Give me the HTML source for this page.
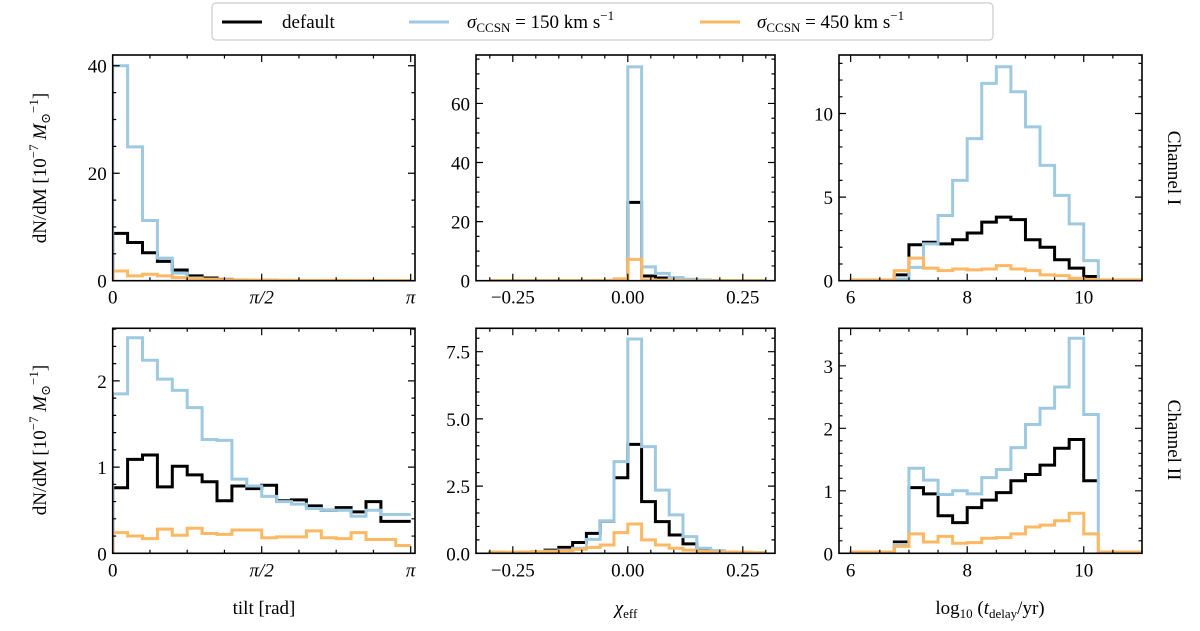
<!DOCTYPE html>
<html><head><meta charset="utf-8">
<style>
html,body{margin:0;padding:0;background:#fff;}
svg{display:block;font-family:"Liberation Serif","DejaVu Serif",serif;}
</style></head>
<body>
<svg id="fig" width="1200" height="631" viewBox="0 0 1200 631" xmlns="http://www.w3.org/2000/svg">
  <g>
    <rect x="212" y="3" width="781" height="37" rx="4" fill="#fff" stroke="#ccc" stroke-width="1.2"/>
    <g>
      <line x1="222" y1="22" x2="262" y2="22" stroke="#000" stroke-width="3"/>
      <text x="282" y="28" font-size="19">default</text>
    </g>
    <g>
      <line x1="409" y1="22" x2="449" y2="22" stroke="#9ecae1" stroke-width="3"/>
      <text x="467" y="28" font-size="19"><tspan font-style="italic">σ</tspan><tspan font-size="13" dy="4">CCSN</tspan><tspan dy="-4"> = 150 km s</tspan><tspan font-size="13" dy="-8">−1</tspan></text>
    </g>
    <g>
      <line x1="700" y1="22" x2="740" y2="22" stroke="#fdb863" stroke-width="3"/>
      <text x="757" y="28" font-size="19"><tspan font-style="italic">σ</tspan><tspan font-size="13" dy="4">CCSN</tspan><tspan dy="-4"> = 450 km s</tspan><tspan font-size="13" dy="-8">−1</tspan></text>
    </g>
  </g>
  <g id="panels"></g>
  <text transform="translate(46,168) rotate(-90)" text-anchor="middle" font-size="19">dN/dM [10<tspan font-size="13" dy="-8">−7</tspan><tspan dy="8"> </tspan><tspan font-style="italic">M</tspan><tspan font-size="13" dy="4">⊙</tspan><tspan font-size="13" dy="-12">−1</tspan><tspan dy="8">]</tspan></text>
  <text transform="translate(46,440) rotate(-90)" text-anchor="middle" font-size="19">dN/dM [10<tspan font-size="13" dy="-8">−7</tspan><tspan dy="8"> </tspan><tspan font-style="italic">M</tspan><tspan font-size="13" dy="4">⊙</tspan><tspan font-size="13" dy="-12">−1</tspan><tspan dy="8">]</tspan></text>
  <text transform="translate(1168,168) rotate(90)" text-anchor="middle" font-size="19">Channel I</text>
  <text transform="translate(1168,440) rotate(90)" text-anchor="middle" font-size="19">Channel II</text>
  <text x="264" y="614" text-anchor="middle" font-size="19">tilt [rad]</text>
  <text x="626" y="614" text-anchor="middle" font-size="19"><tspan font-style="italic">χ</tspan><tspan font-size="13" dy="4">eff</tspan></text>
  <text x="990" y="614" text-anchor="middle" font-size="19">log<tspan font-size="13" dy="4">10</tspan><tspan dy="-4"> (</tspan><tspan font-style="italic">t</tspan><tspan font-size="13" dy="4">delay</tspan><tspan dy="-4">/yr)</tspan></text>
</svg>
<script>
// ---- data (bin values per panel) ----
const tiltEdgesRange = [0, Math.PI];
const chiEdgesRange = [-0.3, 0.3];
const tdelayEdgesRange = [6, 11];
const tilt1Default = [8.8,7.1,5.2,3.6,2.0,0.9,0.5,0.25,0.12,0.08,0.05,0.04,0.03,0.02,0.02,0.02,0.01,0.01,0.01,0.01];
const tilt1Sigma150 = [40,24.9,11.2,4.2,1.4,0.5,0.2,0.1,0.05,0.03,0.02,0.02,0.01,0.01,0.01,0.01,0.01,0.01,0.01,0.01];
const tilt1Sigma450 = [1.8,0.9,1.2,0.9,0.6,0.4,0.3,0.2,0.15,0.12,0.1,0.08,0.07,0.06,0.05,0.05,0.04,0.04,0.04,0.04];
const chi1Default = [0,0,0,0,0,0,0,0,0,0.1,26.5,1.6,0.9,0.5,0.1,0,0,0,0,0];
const chi1Sigma150 = [0,0,0,0,0,0,0,0,0,0.1,72.4,4.7,2.5,1.1,0.5,0.3,0,0,0,0];
const chi1Sigma450 = [0,0,0,0,0,0,0,0,0.1,0.6,7.2,0.3,0.2,0.1,0,0,0,0,0,0];
const td1Default = [0,0,0,0.35,2.15,2.3,2.2,2.45,2.85,3.5,3.8,3.65,2.45,2.0,1.25,0.75,0.25,0,0,0];
const td1Sigma150 = [0,0,0,0.1,0.8,2.2,3.9,6.0,8.5,11.8,12.8,11.3,9.2,6.9,5.1,3.4,1.2,0.02,0.02,0.02];
const td1Sigma450 = [0.05,0.05,0.05,0.6,1.35,0.75,0.6,0.7,0.65,0.7,0.9,0.7,0.6,0.35,0.3,0.15,0.08,0.05,0.05,0.05];
const tilt2Default = [0.76,1.09,1.14,0.77,1.01,0.91,0.83,0.61,0.78,0.75,0.79,0.61,0.62,0.55,0.50,0.53,0.48,0.60,0.37,0.37];
const tilt2Sigma150 = [1.85,2.50,2.24,2.02,1.89,1.69,1.32,1.31,0.86,0.78,0.66,0.60,0.57,0.52,0.50,0.50,0.43,0.50,0.45,0.45];
const tilt2Sigma450 = [0.24,0.20,0.17,0.28,0.21,0.29,0.23,0.22,0.27,0.27,0.18,0.19,0.19,0.26,0.18,0.17,0.24,0.16,0.16,0.09];
const chi2Default = [0.03,0.03,0.05,0.05,0.12,0.22,0.40,0.74,1.2,2.81,4.05,1.92,1.18,0.68,0.35,0.15,0.06,0.04,0.03,0.02];
const chi2Sigma150 = [0.03,0.03,0.04,0.05,0.08,0.12,0.19,0.52,1.21,3.41,7.97,3.97,2.35,1.43,0.62,0.19,0.10,0.05,0.04,0.03];
const chi2Sigma450 = [0.05,0.04,0.05,0.06,0.07,0.10,0.15,0.22,0.31,0.77,1.09,0.50,0.31,0.19,0.12,0.07,0.05,0.05,0.04,0.03];
const td2Default = [0,0,0,0.18,1.05,0.95,0.60,0.49,0.73,0.85,0.97,1.16,1.26,1.41,1.68,1.82,1.16,null,null,null];
const td2Sigma150 = [0,0,0,0.14,1.36,1.17,0.94,1.0,0.95,1.21,1.34,1.69,2.06,2.32,2.66,3.44,2.22,0,0,0];
const td2Sigma450 = [0.02,0.02,0.02,0.11,0.31,0.18,0.27,0.16,0.17,0.24,0.25,0.31,0.42,0.45,0.52,0.64,0.31,0.02,0.02,0.02];
const tiltTickLabels = ["0","π/2","π"];
const chiTickLabels = ["−0.25","0.00","0.25"];
const tdTickLabels = ["6","8","10"];

const NS="http://www.w3.org/2000/svg";
const root=document.getElementById('panels');
function el(tag,attrs,parent){const e=document.createElementNS(NS,tag);for(const k in attrs)e.setAttribute(k,attrs[k]);(parent||root).appendChild(e);return e;}

const colX=[[112.7,415],[476,775],[839,1142]];
const rowY=[[55,280.7],[328.3,553.3]];
const colors={def:"#000",s150:"#9ecae1",s450:"#fdb863"};

const xconf=[
  {lim:[0,3.187],range:tiltEdgesRange,major:[0,Math.PI/2,Math.PI],labels:tiltTickLabels,minorStep:Math.PI/8,name:'tilt'},
  {lim:[-0.33,0.32],range:chiEdgesRange,major:[-0.25,0,0.25],labels:chiTickLabels,minorStep:0.05,name:'chi-eff'},
  {lim:[5.8,11],range:tdelayEdgesRange,major:[6,8,10],labels:tdTickLabels,minorStep:0.5,name:'tdelay'}
];
const yconf=[
  [{lim:[0,42],major:[0,20,40],minor:5},{lim:[0,76.4],major:[0,20,40,60],minor:5},{lim:[0,13.5],major:[0,5,10],minor:1}],
  [{lim:[0,2.61],major:[0,1,2],minor:0.2},{lim:[0,8.37],major:[0,2.5,5,7.5],minor:0.5,fmt:v=>v.toFixed(1)},{lim:[0,3.6],major:[0,1,2,3],minor:0.2}]
];
const series=[
  [[tilt1Default,tilt1Sigma150,tilt1Sigma450],[chi1Default,chi1Sigma150,chi1Sigma450],[td1Default,td1Sigma150,td1Sigma450]],
  [[tilt2Default,tilt2Sigma150,tilt2Sigma450],[chi2Default,chi2Sigma150,chi2Sigma450],[td2Default,td2Sigma150,td2Sigma450]]
];
const sColors=[colors.def,colors.s150,colors.s450];
const sNames=['default','sigma-150','sigma-450'];

for(let r=0;r<2;r++){
  for(let c=0;c<3;c++){
    const [x0,x1]=colX[c],[y0,y1]=rowY[r];
    const xc=xconf[c],yc=yconf[r][c];
    const sx=v=>x0+(v-xc.lim[0])/(xc.lim[1]-xc.lim[0])*(x1-x0);
    const sy=v=>y1-(v-yc.lim[0])/(yc.lim[1]-yc.lim[0])*(y1-y0);
    const g=el('g',{});
    
    
    const clipId='clip'+r+c;
    const cp=el('clipPath',{id:clipId},g);
    el('rect',{x:x0,y:y0,width:x1-x0,height:y1-y0},cp);
    const sg=el('g',{'clip-path':'url(#'+clipId+')'},g);
    series[r][c].forEach((vals,si)=>{
      const n=vals.length,[a,b]=xc.range,w=(b-a)/n;
      let d='',started=false;
      for(let i=0;i<n;i++){
        const v=vals[i];
        if(v===null){break;}
        const xl=sx(a+i*w),xr=sx(a+(i+1)*w);
        if(!started){d+='M'+xl+','+sy(0)+' L'+xl+','+sy(v);started=true;}
        else d+=' L'+xl+','+sy(v);
        d+=' L'+xr+','+sy(v);
      }
      const p=el('path',{d:d,fill:'none',stroke:sColors[si],'stroke-width':3,'stroke-linejoin':'miter'},sg);
      
      
    });
    const fr=el('rect',{x:x0,y:y0,width:x1-x0,height:y1-y0,fill:'none',stroke:'#000','stroke-width':1.6},g);
    
    
    let tk='';
    for(let v=xc.lim[0]-((xc.lim[0]%xc.minorStep)+xc.minorStep)%xc.minorStep; v<=xc.lim[1]+1e-9; v+=xc.minorStep){
      if(v<xc.lim[0]-1e-9)continue;const X=sx(v);tk+=`M${X},${y1}v-3.5M${X},${y0}v3.5`;
    }
    xc.major.forEach((v,i)=>{const X=sx(v);tk+=`M${X},${y1}v-7M${X},${y0}v7`;
      const t=el('text',{x:X,y:y1+23,'text-anchor':'middle','font-size':19},g);t.textContent=xc.labels[i];
      if(xc.labels[i].indexOf('π')>=0)t.setAttribute('font-style','italic');
      
      
    });
    for(let v=0; v<=yc.lim[1]+1e-9; v+=yc.minor){const Y=sy(v);tk+=`M${x0},${Y}h3.5M${x1},${Y}h-3.5`;}
    yc.major.forEach(v=>{const Y=sy(v);tk+=`M${x0},${Y}h7M${x1},${Y}h-7`;
      const t=el('text',{x:x0-6,y:Y+7,'text-anchor':'end','font-size':19},g);t.textContent=yc.fmt?yc.fmt(v):String(v);
      
      
    });
    const tp=el('path',{d:tk,stroke:'#000','stroke-width':1.2,fill:'none'},g);
    
    
  }
}
</script>
</body></html>
